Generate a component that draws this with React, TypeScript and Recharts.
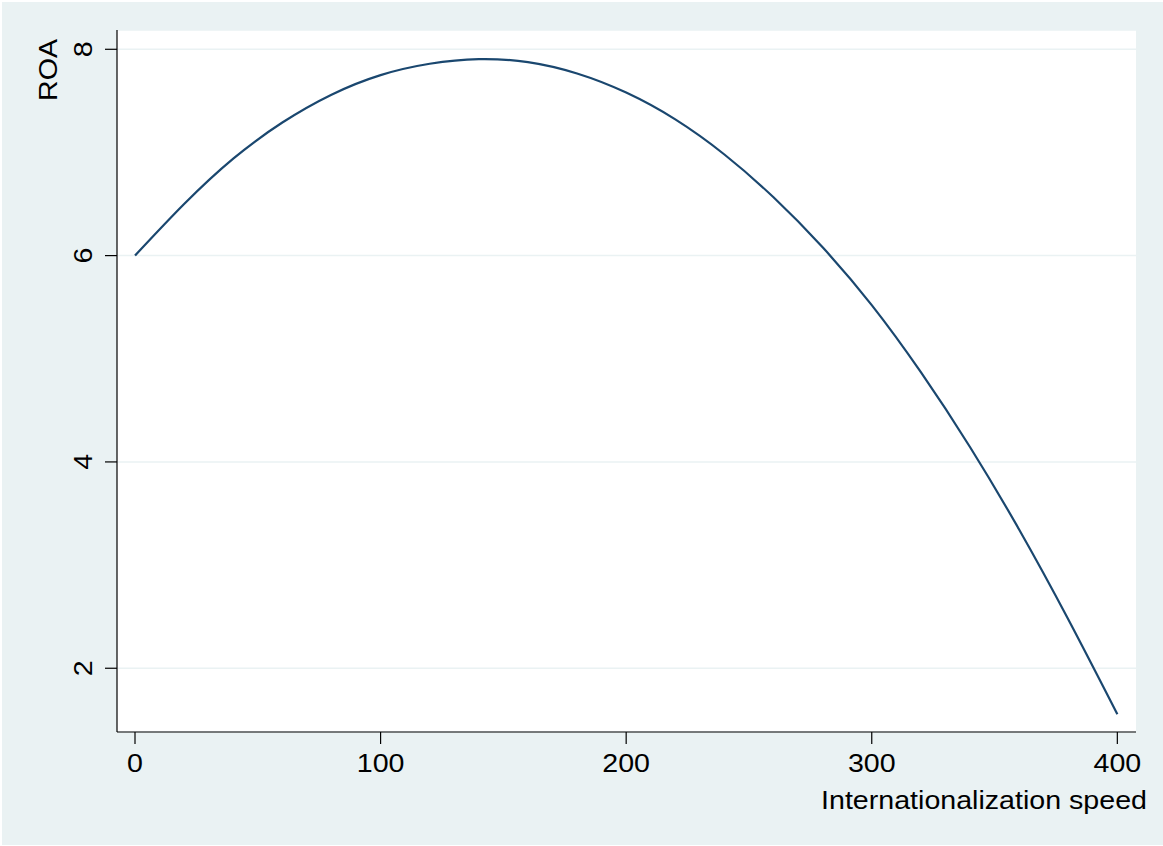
import { CartesianGrid, Line, LineChart, XAxis, YAxis } from "recharts";

const speed = [0, 20, 40, 60, 80, 100, 120, 140, 160, 180, 200, 220, 240, 260, 280, 300, 320, 340, 360, 380, 400];
const roa = [6.0, 6.5, 6.94, 7.29, 7.56, 7.75, 7.86, 7.905, 7.875, 7.765, 7.58, 7.32, 6.98, 6.565, 6.08, 5.52, 4.87, 4.145, 3.345, 2.475, 1.555];
const xTicks = [0, 100, 200, 300, 400];
const yTicks = [2, 4, 6, 8];

const data = speed.map((s, i) => ({ speed: s, roa: roa[i] }));

const FONT = '"Liberation Sans", Arial, Helvetica, sans-serif';
const FONT_SIZE = 26;
const STRETCH = 1.1;
const BG = "#EAF2F3";
const LINE_COLOR = "#1A476F";

function XTick(props: any) {
  const { x, y, payload } = props;
  return (
    <g transform={`translate(${x},${y}) scale(${STRETCH},1)`}>
      <text x={0} y={0} dy="0.71em" textAnchor="middle" fill="#000" fontSize={FONT_SIZE} fontFamily={FONT}>
        {payload.value}
      </text>
    </g>
  );
}

function YTick(props: any) {
  const { x, y, payload } = props;
  return (
    <g transform={`translate(${x},${y}) rotate(-90) scale(${STRETCH},1)`}>
      <text x={0} y={0} textAnchor="middle" fill="#000" fontSize={FONT_SIZE} fontFamily={FONT}>
        {payload.value}
      </text>
    </g>
  );
}

function XTitle(props: any) {
  const { viewBox } = props;
  const x = viewBox.x + viewBox.width + 11;
  const y = viewBox.y + 77;
  return (
    <g transform={`translate(${x},${y}) scale(${STRETCH},1)`}>
      <text x={0} y={0} textAnchor="end" fill="#000" fontSize={FONT_SIZE} fontFamily={FONT}>
        Internationalization speed
      </text>
    </g>
  );
}

function YTitle(props: any) {
  const { viewBox } = props;
  const x = 57;
  const y = viewBox.y + 40;
  return (
    <g transform={`translate(${x},${y}) rotate(-90) scale(${STRETCH},1)`}>
      <text x={0} y={0} textAnchor="middle" fill="#000" fontSize={FONT_SIZE} fontFamily={FONT}>
        ROA
      </text>
    </g>
  );
}

export default function App() {
  return (
    <div style={{ position: "absolute", left: 0, top: 0, width: 1163, height: 846, background: "#fff" }}>
      <div style={{ position: "absolute", left: 2, top: 2, right: 0, bottom: 1, background: BG }} />
      <div style={{ position: "absolute", left: 0, top: 0 }}>
        <LineChart width={1163} height={846} data={data} margin={{ top: 30, right: 27, bottom: 14, left: 17 }}>
          <CartesianGrid vertical={false} fill="#fff" stroke={BG} strokeWidth={1.5} />
          <XAxis
            dataKey="speed"
            type="number"
            domain={[-7.33, 407.6]}
            ticks={xTicks}
            allowDataOverflow
            height={100}
            tickSize={12}
            tickMargin={10}
            axisLine={{ stroke: "#000", strokeWidth: 1.2 }}
            tickLine={{ stroke: "#000", strokeWidth: 1.2 }}
            tick={<XTick />}
            label={{ content: <XTitle /> }}
          />
          <YAxis
            type="number"
            domain={[1.382, 8.187]}
            ticks={yTicks}
            allowDataOverflow
            width={100}
            tickSize={12}
            tickMargin={13}
            axisLine={{ stroke: "#000", strokeWidth: 1.2 }}
            tickLine={{ stroke: "#000", strokeWidth: 1.2 }}
            tick={<YTick />}
            label={{ content: <YTitle /> }}
          />
          <Line
            type="natural"
            dataKey="roa"
            stroke={LINE_COLOR}
            strokeWidth={2.2}
            dot={false}
            activeDot={false}
            isAnimationActive={false}
          />
        </LineChart>
      </div>
    </div>
  );
}
